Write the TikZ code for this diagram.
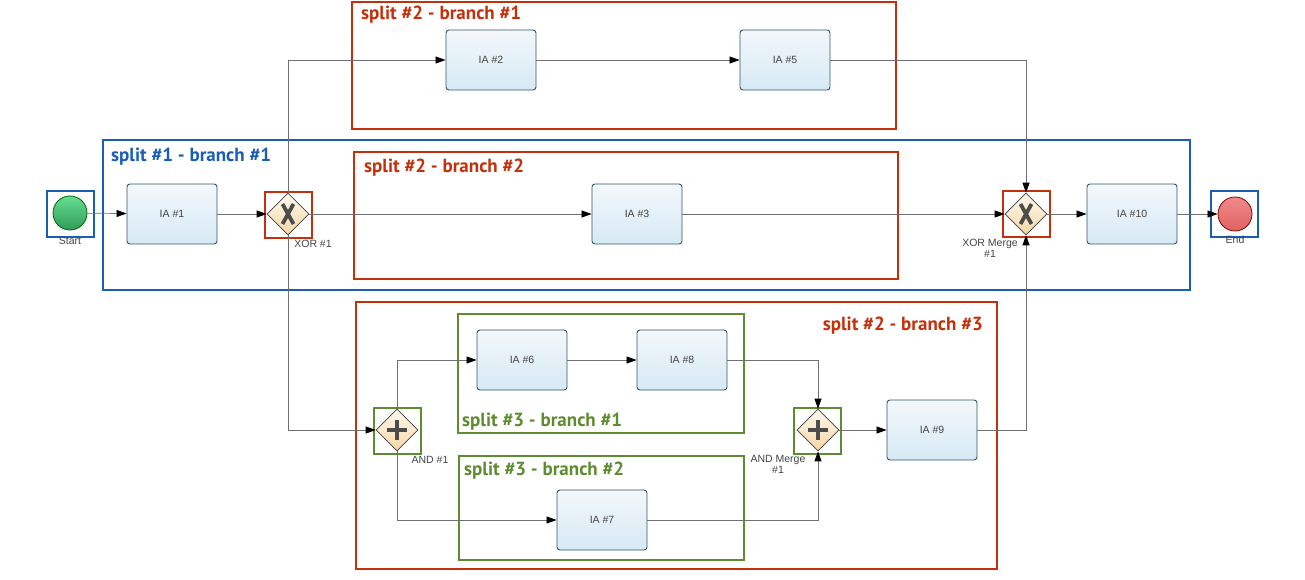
\documentclass[tikz,border=0pt]{standalone}
\usepackage{fontspec}
\setmainfont{Liberation Sans}
\newfontfamily\titlefont{PT Sans}
\usetikzlibrary{shapes.geometric,arrows.meta,calc}
\definecolor{cred}{HTML}{C3310C}
\definecolor{cblue}{HTML}{1A5DB5}
\definecolor{cgreen}{HTML}{5E8C30}
\definecolor{lgray}{HTML}{707070}
\definecolor{tgray}{HTML}{444444}
\definecolor{bborder}{HTML}{34566A}
\definecolor{tasktop}{HTML}{F3F7FA}
\definecolor{taskbot}{HTML}{D6E9F5}
\definecolor{gatetop}{HTML}{FFF9EE}
\definecolor{gatebot}{HTML}{F5D7A6}
\definecolor{starttop}{HTML}{66DE94}
\definecolor{startbot}{HTML}{2F9B55}
\definecolor{endtop}{HTML}{EE8A8A}
\definecolor{endbot}{HTML}{E06262}
\tikzset{
  x=1pt,y=-1pt,
  task/.style={draw=bborder,line width=0.9pt,rounded corners=3pt,minimum width=90pt,minimum height=60pt,
    top color=tasktop,bottom color=taskbot,font=\fontsize{10.5}{12}\selectfont,text=tgray,inner sep=0pt},
  gate/.style={diamond,draw=black!75,line width=0.6pt,minimum width=42pt,minimum height=42pt,inner sep=0pt,
    top color=gatetop,bottom color=gatebot},
  gframe/.style={draw,line width=2pt,minimum width=47pt,minimum height=46pt,inner sep=0pt},
  cont/.style={draw,line width=1.6pt},
  ttl/.style={font=\titlefont\bfseries\fontsize{19}{21}\selectfont,anchor=base west,inner sep=0pt},
  lbl/.style={font=\fontsize{10.5}{11}\selectfont,text=tgray,align=center,inner sep=0pt},
  flow/.style={draw=lgray,line width=0.7pt,-{Triangle[length=10pt,width=7pt,fill=black,color=black]}},
  glyph/.style={line width=3.8pt,color=black!70},
}
\begin{document}
\begin{tikzpicture}
\useasboundingbox (0,0) rectangle (1305,580);
% containers
\draw[cont,cred] (352,2) rectangle (896,129);
\draw[cont,cblue] (103,140) rectangle (1190,290);
\draw[cont,cred] (354,152) rectangle (898,279);
\draw[cont,cred] (356,302) rectangle (997,569);
\draw[cont,cgreen] (458,314) rectangle (744,433);
\draw[cont,cgreen] (459,456) rectangle (744,560);
\node[ttl,text=cred] (t21) at (361,20) {split \#2 - branch \#1};
\node[ttl,text=cblue] (t11) at (111,162) {split \#1 - branch \#1};
\node[ttl,text=cred] (t22) at (364,172) {split \#2 - branch \#2};
\node[ttl,text=cred,anchor=base east] (t23) at (983,330) {split \#2 - branch \#3};
\node[ttl,text=cgreen] (t31) at (462,426) {split \#3 - branch \#1};
\node[ttl,text=cgreen] (t32) at (464,475) {split \#3 - branch \#2};
% frames
\node[gframe,draw=cblue] (fs) at (70,214) {};
\node[gframe,draw=cblue] (fe) at (1234,214) {};
\node[gframe,draw=cred] (fx1) at (288,214.5) {};
\node[gframe,draw=cred] (fx2) at (1026.5,213.5) {};
\node[gframe,draw=cgreen] (fa1) at (397.5,430.5) {};
\node[gframe,draw=cgreen] (fa2) at (817.5,430.5) {};
% events
\node[circle,draw=green!40!black,line width=0.8pt,minimum size=34pt,inner sep=0pt,top color=starttop,bottom color=startbot] (start) at (70,213) {};
\node[circle,draw=red!50!black,line width=0.8pt,minimum size=34pt,inner sep=0pt,top color=endtop,bottom color=endbot] (end) at (1235,214) {};
\node[lbl,anchor=north] (ls) at (70,237) {Start};
\node[lbl,anchor=north] (le) at (1235,236) {End};
% tasks
\node[task] (ia1) at (172,214) {IA \#1};
\node[task] (ia2) at (491,60) {IA \#2};
\node[task] (ia5) at (785,60) {IA \#5};
\node[task] (ia3) at (637,214) {IA \#3};
\node[task] (ia10) at (1132,214) {IA \#10};
\node[task] (ia6) at (522,360) {IA \#6};
\node[task] (ia8) at (682,360) {IA \#8};
\node[task] (ia7) at (602,520) {IA \#7};
\node[task] (ia9) at (932,430) {IA \#9};
% gateways
\node[gate] (x1) at (288,214) {};
\node[gate] (x2) at (1026,214) {};
\node[gate] (a1) at (397,430) {};
\node[gate] (a2) at (818,430) {};
\foreach \g in {x1,x2}{
  \draw[glyph] ($(\g.center)+(-5.5,-10)$) -- ($(\g.center)+(5.5,10)$);
  \draw[glyph] ($(\g.center)+(5.5,-10)$) -- ($(\g.center)+(-5.5,10)$);
}
\foreach \g in {a1,a2}{
  \draw[glyph] ($(\g.center)+(-10,0)$) -- ($(\g.center)+(10,0)$);
  \draw[glyph] ($(\g.center)+(0,-10)$) -- ($(\g.center)+(0,10)$);
}
\node[lbl,anchor=north] (lx1) at (313,240) {XOR \#1};
\node[lbl,anchor=north] (lx2) at (990,239) {XOR Merge\\\#1};
\node[lbl,anchor=north] (la1) at (430,456) {AND \#1};
\node[lbl,anchor=north] (la2) at (778,455) {AND Merge\\\#1};
% flows
\draw[flow] (start) -- (ia1);
\draw[flow] (ia1) -- (x1);
\draw[flow] (x1.north) |- (ia2);
\draw[flow] (x1) -- (ia3);
\draw[flow] (x1.south) |- (a1);
\draw[flow] (ia2) -- (ia5);
\draw[flow] (ia5) -| (x2.north);
\draw[flow] (ia3) -- (x2);
\draw[flow] (ia9) -| (x2.south);
\draw[flow] (x2) -- (ia10);
\draw[flow] (ia10) -- (end);
\draw[flow] (a1.north) |- (ia6);
\draw[flow] (a1.south) |- (ia7);
\draw[flow] (ia6) -- (ia8);
\draw[flow] (ia8) -| (a2.north);
\draw[flow] (ia7) -| (a2.south);
\draw[flow] (a2) -- (ia9);
\end{tikzpicture}
\end{document}
